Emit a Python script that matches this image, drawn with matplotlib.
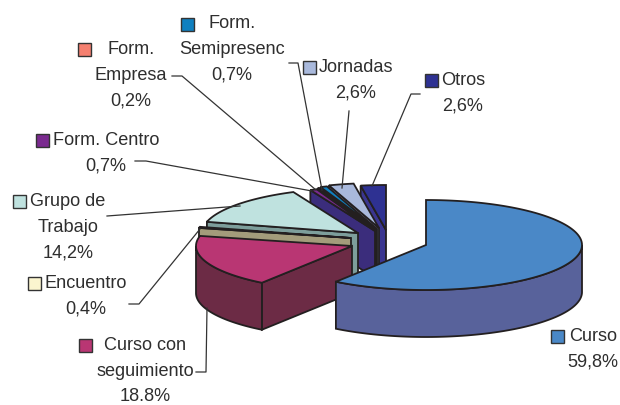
import numpy as np
import matplotlib
matplotlib.use('Agg')
import matplotlib.pyplot as plt
from matplotlib.patches import Polygon, Rectangle

plt.rcParams['font.family'] = ['Liberation Sans', 'DejaVu Sans']

# clockwise from 12 o'clock, same order as the source chart
categories = ['Curso', 'Curso con\nseguimiento', 'Encuentro', 'Grupo de\nTrabajo', 'Form. Centro',
              'Form.\nEmpresa', 'Form.\nSemipresenc', 'Jornadas', 'Otros']
values = [59.8, 18.8, 0.4, 14.2, 0.7, 0.2, 0.7, 2.6, 2.6]
value_labels = ['59,8%', '18.8%', '0,4%', '14,2%', '0,7%', '0,2%', '0,7%', '2,6%', '2,6%']

top_colors = ['#4a88c7', '#b93673', '#fbf5cf', '#bfe2df', '#7a2a8f', '#f58070', '#0f80c0', '#a9b9dc', '#2e3192']
wall_colors = ['#58629b', '#6c2b45', '#a39c7b', '#7d9e9b', '#3b2d7c', '#7a3c3c', '#1f2a55', '#7f88a8', '#3a3590']

# exploded slice positions (image pixels)
apex = [(426, 245), (352, 246), (351, 238), (358, 233), (375, 231), (376, 230), (377, 229), (379, 228), (386, 230)]
rx, ry, depth = 156, 45, 47

# label centre, legend key left/top
label_pos = [(593, 349), (145, 371), (86, 296), (68, 227), (106, 153), (131, 75), (232, 49), (356, 80), (463, 93)]
key_pos = [(551, 330), (79, 339), (28, 277), (13, 195), (36, 134), (78, 43), (181, 18), (303, 61), (425, 74)]

leaders = [
    [(196, 372), (206, 372), (207, 308)],
    [(129, 304), (139, 304), (200, 229)],
    [(107, 216), (240, 206)],
    [(135, 161), (146, 161), (312, 191)],
    [(172, 76), (182, 76), (316, 190)],
    [(289, 63), (298, 63), (322, 190)],
    [(349, 111), (342, 188)],
    [(420, 94), (411, 94), (372, 186)],
]

edge = '#231f20'
text_color = '#2e2e2e'


def rim(center, a0, a1):
    # angles in degrees clockwise from top
    t = np.radians(np.linspace(a0, a1, max(int(abs(a1 - a0)) * 2, 2)))
    return np.column_stack([center[0] + rx * np.sin(t), center[1] - ry * np.cos(t)])


def wedge_parts(ax, i, a0, a1):
    c = apex[i]
    z = 3 + (len(values) - i) % len(values)
    if i == 0:
        z = 20
    down = np.array([0, depth])
    # side wall on the leading edge, when it faces the viewer
    if a0 > 180:
        p = rim(c, a0, a0)[0]
        ax.add_patch(Polygon([p, c, np.array(c) + down, p + down], closed=True, fc=wall_colors[i],
                             ec=edge, lw=1.3, zorder=z))
    # outer wall only where the rim is on the front half
    lo, hi = max(a0, 90), min(a1, 270)
    if lo < hi:
        r = rim(c, lo, hi)
        ax.add_patch(Polygon(np.vstack([r, r[::-1] + down]), closed=True, fc=wall_colors[i],
                             ec=edge, lw=1.3, zorder=z))
    top = np.vstack([[c], rim(c, a0, a1)])
    ax.add_patch(Polygon(top, closed=True, fc=top_colors[i], ec=edge, lw=1.3, zorder=z))


fig = plt.figure(figsize=(6.2, 4.05), dpi=100)
ax = fig.add_axes([0, 0, 1, 1])
ax.set_xlim(0, 620)
ax.set_ylim(405, 0)
ax.axis('off')

edges = np.cumsum([0] + values) / sum(values) * 360
for i in range(len(values)):
    wedge_parts(ax, i, edges[i], edges[i + 1])

for pts in leaders:
    xs, ys = zip(*pts)
    ax.plot(xs, ys, color='#333333', lw=0.9, zorder=30)

for i, cat in enumerate(categories):
    ax.text(label_pos[i][0], label_pos[i][1], cat + '\n' + value_labels[i], ha='center', va='center',
            ma='center', fontsize=13.1, color=text_color, linespacing=1.66, zorder=31)
    ax.add_patch(Rectangle(key_pos[i], 12.5, 12.5, fc=top_colors[i], ec='#333333', lw=1.0, zorder=31))

fig.savefig('out.png', dpi=100)
